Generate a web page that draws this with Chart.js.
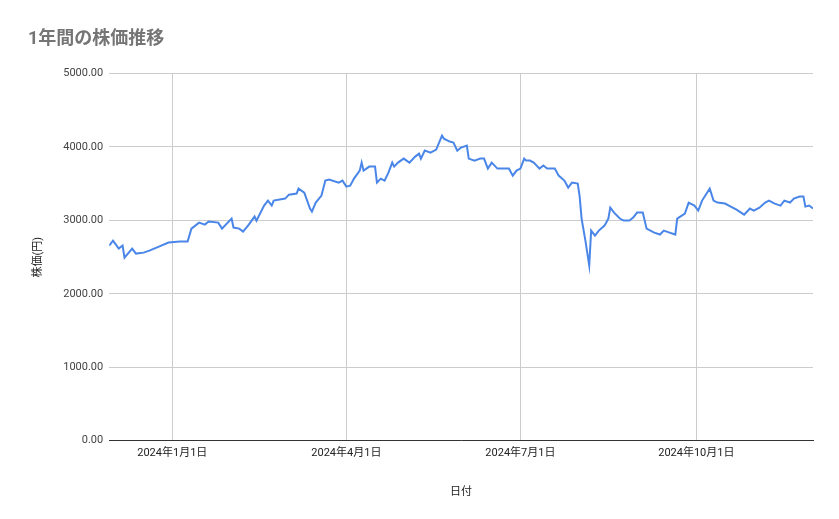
<!DOCTYPE html>
<html><head><meta charset="utf-8">
<script src="https://cdn.jsdelivr.net/npm/chart.js@4"></script>
<style>html,body{margin:0;background:#fff}#wrap{width:839px;height:519px}</style>
</head><body>
<div id="wrap"><canvas id="c"></canvas></div>
<script>
// days counted from 2024-01-01
const days = [-33,-31,-28,-26,-25,-21,-19,-15,-12,-7,-2,4,8,10,14,17,19,24,26,31,32,35,37,40,43,44,48,50,52,53,59,61,65,66,69,72,73,75,78,80,82,87,89,91,93,95,98,99,100,103,106,107,109,111,113,115,116,118,121,124,127,129,130,132,135,138,141,142,145,147,149,151,154,155,158,161,163,165,167,170,174,176,178,180,182,184,185,187,189,192,194,196,199,200,202,205,207,209,212,213,214,216,218,219,221,223,226,228,229,231,234,236,239,241,243,246,248,252,255,257,260,263,264,268,270,273,275,277,281,283,285,289,292,295,299,302,304,307,310,312,315,318,320,323,325,328,330,331,333,335];
const prices = [2657,2725,2616,2657,2493,2616,2548,2561,2589,2643,2698,2711,2711,2888,2970,2943,2984,2970,2888,3025,2902,2888,2847,2943,3052,2997,3202,3270,3202,3270,3297,3351,3365,3433,3379,3161,3120,3243,3338,3542,3556,3515,3542,3460,3474,3569,3678,3787,3678,3733,3733,3515,3569,3542,3651,3787,3733,3787,3842,3787,3869,3910,3842,3951,3924,3965,4155,4114,4074,4060,3951,3992,4019,3842,3815,3842,3842,3706,3787,3706,3706,3706,3610,3678,3706,3842,3815,3815,3787,3706,3747,3706,3706,3706,3610,3542,3447,3515,3501,3324,3025,2725,2384,2861,2793,2861,2929,3025,3174,3106,3025,2997,2997,3038,3106,3106,2888,2834,2807,2861,2834,2807,3025,3093,3242,3202,3134,3270,3433,3270,3243,3229,3188,3147,3079,3161,3134,3174,3243,3270,3229,3202,3270,3243,3297,3324,3324,3188,3202,3161];
const tickDays = [0,91,182,274];
const tickLabels = ['2024年1月1日','2024年4月1日','2024年7月1日','2024年10月1日'];

const font = {family:'Roboto, "Noto Sans CJK JP", sans-serif', size:11};
new Chart(document.getElementById('c'), {
  type:'line',
  data:{datasets:[{data: days.map((d,i)=>({x:d,y:prices[i]})), borderColor:'#4a86e8', borderWidth:2, pointRadius:0, tension:0}]},
  options:{
    responsive:true, maintainAspectRatio:false, animation:false,
    layout:{padding:{left:28,right:26,top:7,bottom:16}},
    plugins:{
      legend:{display:false}, tooltip:{enabled:false},
      title:{display:true, text:'1年間の株価推移', align:'start', color:'#757575',
        font:{family:'Roboto, "Noto Sans CJK JP", sans-serif', size:18, weight:'bold'}, padding:{top:22,bottom:23}}
    },
    scales:{
      x:{type:'linear', min:-33, max:335,
        afterBuildTicks:ax=>{ ax.ticks = tickDays.map(v=>({value:v})); },
        ticks:{callback:(v)=>tickLabels[tickDays.indexOf(v)], color:'#222', font, maxRotation:0, padding:6},
        grid:{color:'#cccccc', drawTicks:false}, border:{color:'#333'},
        title:{display:true, text:'日付', color:'#222', font, padding:{top:20}}},
      y:{min:0, max:5000,
        ticks:{stepSize:1000, callback:v=>v.toFixed(2), color:'#444', font, padding:6},
        grid:{color:'#cccccc', drawTicks:false}, border:{display:false},
        title:{display:true, text:'株価(円)', color:'#222', font, padding:{bottom:12}}}
    }
  }
});
</script>
</body></html>
